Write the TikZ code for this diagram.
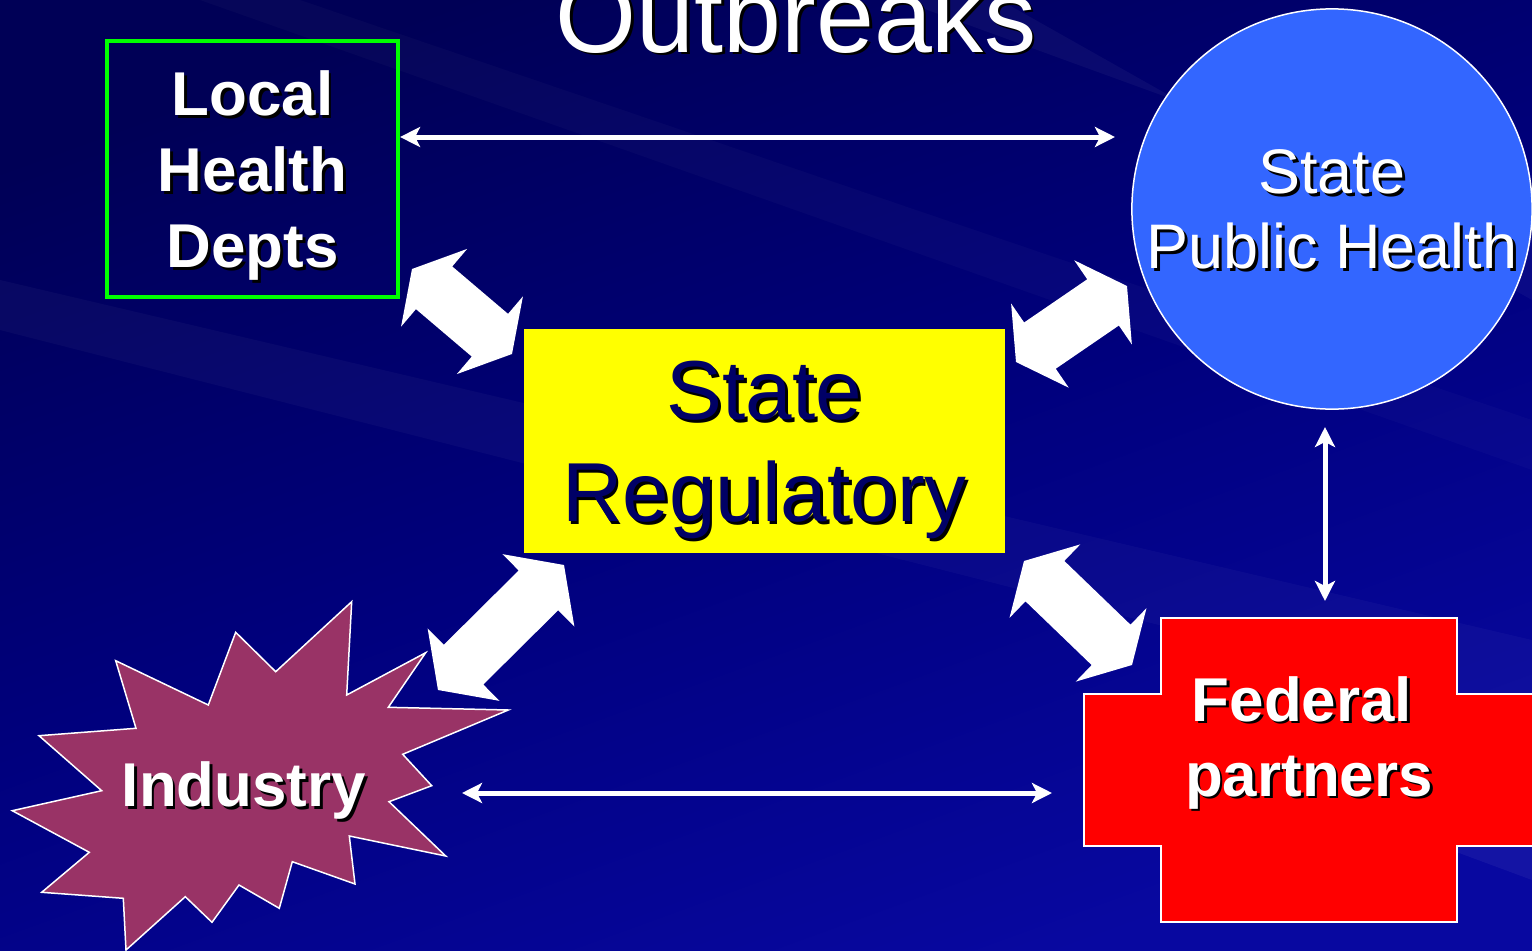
\documentclass[tikz,border=0pt]{standalone}
\usepackage{fontspec}
\setmainfont{Liberation Sans}
\usetikzlibrary{calc,arrows.meta}

\definecolor{slidedark}{RGB}{0,0,86}
\definecolor{slidemid}{RGB}{0,0,125}
\definecolor{slidelight}{RGB}{8,8,160}
\definecolor{regtext}{RGB}{0,0,102}
\definecolor{regyellow}{RGB}{255,255,0}
\definecolor{sphblue}{RGB}{51,102,255}
\definecolor{indpink}{RGB}{153,51,102}
\definecolor{localgreen}{RGB}{0,255,0}

% text with a black drop shadow
\newcommand{\shad}[1]{\leavevmode\rlap{\kern0.8pt\raisebox{-0.8pt}{\color{black}#1}}#1}
% white block arrow with a head at both ends: [head length]{tip}{tip}
\newcommand{\ahw}{0.51cm}
\newcommand{\asw}{0.28cm}
\newcommand{\fatarrow}[3][0.29cm]{%
\fill[white] (#2)
  -- ($(#2)!#1!(#3)!\ahw!90:(#3)$) -- ($(#2)!#1!(#3)!\asw!90:(#3)$)
  -- ($(#3)!#1!(#2)!\asw!-90:(#2)$) -- ($(#3)!#1!(#2)!\ahw!-90:(#2)$)
  -- (#3)
  -- ($(#3)!#1!(#2)!\ahw!90:(#2)$) -- ($(#3)!#1!(#2)!\asw!90:(#2)$)
  -- ($(#2)!#1!(#3)!\asw!-90:(#3)$) -- ($(#2)!#1!(#3)!\ahw!-90:(#3)$)
  -- cycle;}

\begin{document}
\begin{tikzpicture}[x=0.01cm,y=-0.01cm,
  thin arrow/.style={draw=white,line width=0.05cm,
    {Stealth[length=0.2cm,width=0.2cm,inset=0.05cm]}-{Stealth[length=0.2cm,width=0.2cm,inset=0.05cm]}},
  outline/.style={draw=white,line width=0.015cm}]
\useasboundingbox (0,0) rectangle (1532,951);
\clip (0,0) rectangle (1532,951);
% background
\shade[top color=slidedark,bottom color=slidelight,middle color=slidemid,shading angle=20] (0,0) rectangle (1532,951);
\fill[white,fill opacity=0.03] (0,280) -- (1532,640) -- (1532,720) -- (0,330) -- cycle;
\fill[white,fill opacity=0.025] (300,0) -- (1532,420) -- (1532,470) -- (200,0) -- cycle;
\fill[white,fill opacity=0.04] (900,0) -- (1532,230) -- (1532,300) -- (1000,0) -- cycle;
\fill[white,fill opacity=0.05] (1100,720) -- (1532,830) -- (1532,880) -- cycle;
%%%%%%%%%%%
\node[anchor=base,text=white,font=\fontsize{29.6}{34}\selectfont] (title) at (796,52) {\shad{Outbreaks}};
\node[draw=localgreen,line width=0.04cm,minimum width=2.91cm,minimum height=2.56cm,inner sep=0pt,
  text=white,align=center,text depth=-0.03cm,font=\bfseries\fontsize{17.6}{21.6}\selectfont] (loc) at (252.5,169)
  {\shad{Local}\\\shad{Health}\\\shad{Depts}};
\node[fill=regyellow,minimum width=4.81cm,minimum height=2.24cm,inner sep=0pt,
  text=regtext,align=center,text depth=-0.065cm,font=\fontsize{23.8}{29}\selectfont] (reg) at (764.5,441)
  {\shad{State}\\\shad{Regulatory}};
\node[circle,fill=sphblue,outline,minimum size=4cm,inner sep=0pt,
  text=white,align=center,text depth=-0.06cm,font=\fontsize{17.9}{21.3}\selectfont] (sph) at (1332,209)
  {\shad{State}\\\shad{Public Health}};
% industry burst
\draw[outline,fill=indpink] (351.7,601.7) -- (346.7,695) -- (425.7,652.7) -- (388.3,707.3)
  -- (508.3,710) -- (402.7,754.3) -- (431.7,785.7) -- (389,801.7) -- (445.7,856)
  -- (349.3,836) -- (355,884) -- (292.3,861.7) -- (279.3,908.3) -- (239,885)
  -- (212,922.3) -- (185.3,896.7) -- (126,950) -- (123.3,898.3) -- (41.7,892.3)
  -- (89.3,852.3) -- (12.3,810.7) -- (101.7,790.7) -- (39,735.7) -- (136,728.3)
  -- (115.7,660.7) -- (208.3,705) -- (235.7,632.3) -- (275.7,671.7) -- cycle;
\node[text=white,font=\bfseries\fontsize{17.6}{21.3}\selectfont] (ind) at (244,792) {\shad{Industry}};
% federal cross
\draw[outline,fill=red] (1161,618) -- (1457,618) -- (1457,694) -- (1534,694) -- (1534,846)
  -- (1457,846) -- (1457,922) -- (1161,922) -- (1161,846) -- (1084,846) -- (1084,694)
  -- (1161,694) -- cycle;
\node[text=white,align=center,font=\bfseries\fontsize{17.6}{21.3}\selectfont] (fed) at (1309,744)
  {\shad{Federal}\kern0.14cm\\\shad{partners}};
% thin arrows
\coordinate (tr) at (1115,137);
\coordinate (v1) at (1325,427);
\coordinate (v2) at (1325,601);
\coordinate (b1) at (462,793);
\coordinate (b2) at (1052,793);
\draw[thin arrow] (loc.east |- tr) -- (tr);
\draw[thin arrow] (v1) -- (v2);
\draw[thin arrow] (b1) -- (b2);
% block arrows
\coordinate (lr1) at (412,269);
\coordinate (lr2) at (512,354);
\coordinate (rs1) at (1016,362);
\coordinate (rs2) at (1127,286);
\coordinate (ir1) at (438,690);
\coordinate (ir2) at (564,565);
\coordinate (rf1) at (1024,561);
\coordinate (rf2) at (1132,665);
\fatarrow{lr1}{lr2}
\fatarrow{rs1}{rs2}
\fatarrow[0.36cm]{ir1}{ir2}
\fatarrow{rf1}{rf2}
\end{tikzpicture}
\end{document}
